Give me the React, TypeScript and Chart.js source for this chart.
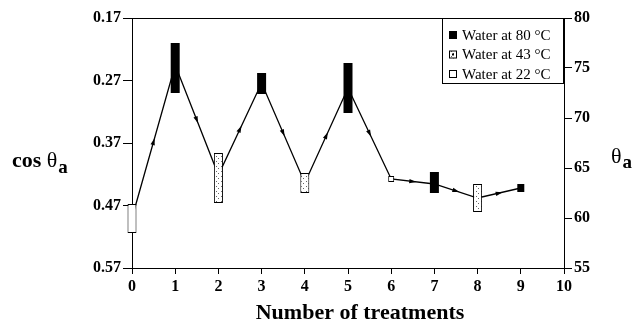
import React, { useEffect, useRef } from "react";
import { Chart, registerables } from "chart.js";

Chart.register(...registerables);

// ---- data ----
const treatments = [0, 1, 2, 3, 4, 5, 6, 7, 8, 9];
const thetaLine = [60, 75.3, 64.3, 73.5, 63.5, 73, 63.9, 63.4, 62, 63];
const boxLow = [58.5, 72.5, 61.5, 72.4, 62.5, 70.5, 63.6, 62.5, 60.6, 62.6];
const boxHigh = [61.4, 77.5, 66.5, 74.5, 64.5, 75.5, 64.2, 64.6, 63.4, 63.4];
const waterTemp = [22, 80, 43, 80, 43, 80, 43, 80, 43, 80];
const cosTicks = [0.17, 0.27, 0.37, 0.47, 0.57];
const thetaMin = 55;
const thetaMax = 80;
const thetaStep = 5;
const xMin = 0;
const xMax = 10;
const legendTemps = [80, 43, 22];
const legendLabels = ["Water at 80 °C", "Water at 43 °C", "Water at 22 °C"];
const xTitle = "Number of treatments";

// ---- styles ----
const SERIF = "'Liberation Serif', 'Times New Roman', serif";
const narrowBox: Record<number, number> = { 6: 6, 9: 7 };
const defaultBoxWidth = 9;

function makePattern(): CanvasPattern | string {
  const c = document.createElement("canvas");
  c.width = 5;
  c.height = 5;
  const g = c.getContext("2d");
  if (!g) return "#ddd";
  g.fillStyle = "#fff";
  g.fillRect(0, 0, 5, 5);
  g.fillStyle = "#666";
  g.fillRect(1, 1, 1, 1);
  g.fillRect(3, 3, 1, 1);
  const p = g.createPattern(c, "repeat");
  return p || "#ddd";
}

export default function App() {
  const ref = useRef<HTMLCanvasElement | null>(null);

  useEffect(() => {
    if (!ref.current) return;
    const pattern = makePattern();
    const fillFor = (t: number) => (t === 80 ? "#000" : t === 43 ? pattern : "#fff");

    const boxDatasets = treatments.map((x, i) => ({
      type: "bar" as const,
      data: [{ x, y: [boxLow[i], boxHigh[i]] }],
      yAxisID: "y1",
      xAxisID: "x",
      grouped: false,
      clip: false,
      maxBarThickness: narrowBox[x] ?? defaultBoxWidth,
      backgroundColor: fillFor(waterTemp[i]),
      borderColor: "#000",
      borderWidth: waterTemp[i] === 80 ? 0 : 1,
      borderSkipped: false,
      order: 0,
    }));

    const lineDataset = {
      type: "line" as const,
      data: treatments.map((x, i) => ({ x, y: thetaLine[i] })),
      yAxisID: "y1",
      xAxisID: "x",
      borderColor: "#000",
      borderWidth: 1.3,
      pointRadius: 0,
      tension: 0,
      clip: false,
      order: 1,
    };

    const decor = {
      id: "decor",
      afterDatasetsDraw(chart: any) {
        const ctx = chart.ctx;
        const xs = chart.scales.x;
        const ys = chart.scales.y1;
        ctx.save();
        ctx.fillStyle = "#000";
        for (let i = 0; i < treatments.length - 1; i++) {
          const x0 = xs.getPixelForValue(treatments[i]);
          const y0 = ys.getPixelForValue(thetaLine[i]);
          const x1 = xs.getPixelForValue(treatments[i + 1]);
          const y1 = ys.getPixelForValue(thetaLine[i + 1]);
          const mx = (x0 + x1) / 2;
          const my = (y0 + y1) / 2;
          const len = Math.hypot(x1 - x0, y1 - y0);
          const dx = (x1 - x0) / len;
          const dy = (y1 - y0) / len;
          const px = -dy;
          const py = dx;
          ctx.beginPath();
          ctx.moveTo(mx + dx * 3.5, my + dy * 3.5);
          ctx.lineTo(mx - dx * 3.5 + px * 2.2, my - dy * 3.5 + py * 2.2);
          ctx.lineTo(mx - dx * 3.5 - px * 2.2, my - dy * 3.5 - py * 2.2);
          ctx.closePath();
          ctx.fill();
        }
        ctx.restore();
      },
      afterDraw(chart: any) {
        const ctx = chart.ctx;
        const a = chart.chartArea;
        ctx.save();
        ctx.strokeStyle = "#000";
        ctx.lineWidth = 1;
        ctx.beginPath();
        ctx.moveTo(a.left, a.top + 0.5);
        ctx.lineTo(a.right, a.top + 0.5);
        ctx.stroke();

        // legend
        const lx = 442;
        const ly = a.top;
        const lw = a.right - lx;
        const lh = 66;
        ctx.fillStyle = "#fff";
        ctx.fillRect(lx, ly, lw, lh);
        ctx.strokeRect(lx + 0.5, ly + 0.5, lw - 1, lh - 1);
        ctx.font = `15px ${SERIF}`;
        ctx.textBaseline = "middle";
        ctx.textAlign = "left";
        legendTemps.forEach((t, i) => {
          const cy = ly + 17 + i * 19.5;
          const fill = fillFor(t);
          ctx.fillStyle = fill as any;
          ctx.fillRect(449, cy - 4, 8, 8);
          if (t !== 80) {
            ctx.strokeRect(449.5, cy - 3.5, 7, 7);
            if (t === 43) {
              ctx.fillStyle = "#000";
              ctx.fillRect(452, cy - 1, 2, 2);
            }
          }
          ctx.fillStyle = "#000";
          ctx.fillText(legendLabels[i], 462, cy + 1);
        });

        // axis titles
        ctx.fillStyle = "#000";
        ctx.textBaseline = "alphabetic";
        const midY = (a.top + a.bottom) / 2;
        let x = 12;
        ctx.font = `bold 22px ${SERIF}`;
        ctx.fillText("cos ", x, midY + 24);
        x += ctx.measureText("cos ").width;
        ctx.font = `22px ${SERIF}`;
        ctx.fillText("θ", x, midY + 24);
        x += ctx.measureText("θ").width + 1;
        ctx.font = `bold 19px ${SERIF}`;
        ctx.fillText("a", x, midY + 30);

        let rx = 611;
        ctx.font = `22px ${SERIF}`;
        ctx.fillText("θ", rx, midY + 20);
        rx += ctx.measureText("θ").width + 1;
        ctx.font = `bold 19px ${SERIF}`;
        ctx.fillText("a", rx, midY + 25);

        ctx.font = `bold 22px ${SERIF}`;
        ctx.textAlign = "center";
        ctx.fillText(xTitle, 360, 319);
        ctx.restore();
      },
    };

    const tickFont = { family: SERIF, size: 16, weight: "bold" as const };

    const chart = new Chart(ref.current, {
      data: { datasets: [...boxDatasets, lineDataset] as any },
      options: {
        animation: false,
        responsive: false,
        layout: { padding: { top: 18, left: 0, right: 0, bottom: 0 } },
        plugins: { legend: { display: false }, tooltip: { enabled: false }, title: { display: false } },
        scales: {
          x: {
            type: "linear",
            position: "bottom",
            offset: false,
            min: xMin,
            max: xMax,
            ticks: { stepSize: 1, color: "#000", font: tickFont, padding: 3, maxRotation: 0 },
            grid: { offset: false, drawOnChartArea: false, drawTicks: true, tickLength: 6, color: "#000" },
            border: { display: true, color: "#000", width: 1 },
            afterFit: (s: any) => {
              s.height = 58;
            },
          },
          y: {
            type: "linear",
            position: "left",
            min: cosTicks[0],
            max: cosTicks[cosTicks.length - 1],
            reverse: true,
            afterBuildTicks: (s: any) => {
              s.ticks = cosTicks.map((v) => ({ value: v }));
            },
            ticks: { color: "#000", font: tickFont, padding: 2, callback: (v: any) => Number(v).toFixed(2) },
            grid: { drawOnChartArea: false, drawTicks: true, tickLength: 9, color: "#000" },
            border: { display: true, color: "#000", width: 1 },
            afterFit: (s: any) => {
              s.width = 132;
            },
          },
          y1: {
            type: "linear",
            position: "right",
            min: thetaMin,
            max: thetaMax,
            ticks: { stepSize: thetaStep, color: "#000", font: tickFont, padding: 2 },
            grid: { drawOnChartArea: false, drawTicks: true, tickLength: 8, color: "#000" },
            border: { display: true, color: "#000", width: 1 },
            afterFit: (s: any) => {
              s.width = 72;
            },
          },
        },
      },
      plugins: [decor],
    } as any);

    return () => chart.destroy();
  }, []);

  return (
    <div style={{ position: "fixed", left: 0, top: 0, width: 636, height: 326, background: "#fff" }}>
      <canvas ref={ref} width={636} height={326} style={{ display: "block" }} />
    </div>
  );
}
